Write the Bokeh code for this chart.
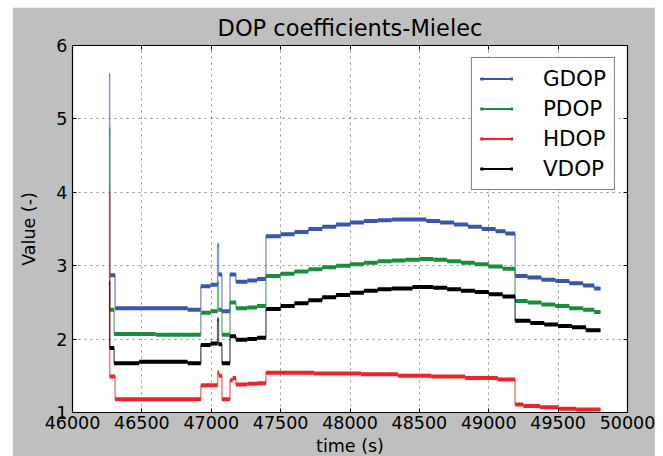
from bokeh.plotting import figure
from bokeh.models import LinearAxis, FixedTicker, Legend, LegendItem, Range1d, Spacer
from bokeh.layouts import row, column
from bokeh.embed import file_html
from bokeh.resources import INLINE

T_END = 49805

GDOP_T = [46264, 46268, 46307, 46830, 46925, 46995, 47046, 47052, 47077, 47135, 47178, 47260, 47330,
          47394, 47500, 47600, 47700, 47800, 47900, 48000, 48100, 48200, 48300, 48550, 48650, 48750,
          48850, 48950, 49050, 49120, 49190, 49280, 49380, 49480, 49580, 49680, 49760]
GDOP_V = [5.60, 2.87, 2.42, 2.40, 2.72, 2.74, 3.29, 2.88, 2.38, 2.88, 2.78, 2.80, 2.82,
          3.40, 3.43, 3.46, 3.50, 3.53, 3.56, 3.59, 3.61, 3.62, 3.63, 3.61, 3.59, 3.56,
          3.53, 3.50, 3.47, 3.44, 2.86, 2.84, 2.81, 2.79, 2.76, 2.73, 2.69]

PDOP_T = [46264, 46268, 46300, 46600, 46925, 46995, 47046, 47052, 47077, 47135, 47178, 47260, 47330,
          47394, 47500, 47600, 47700, 47800, 47900, 48000, 48100, 48200, 48300, 48400, 48500, 48600,
          48700, 48800, 48900, 49000, 49100, 49190, 49280, 49380, 49480, 49580, 49680, 49760]
PDOP_V = [4.87, 2.40, 2.07, 2.06, 2.36, 2.38, 2.77, 2.40, 2.06, 2.50, 2.42, 2.43, 2.45,
          2.86, 2.89, 2.92, 2.95, 2.98, 3.00, 3.02, 3.04, 3.06, 3.07, 3.08, 3.09, 3.08,
          3.06, 3.04, 3.02, 2.99, 2.96, 2.52, 2.50, 2.47, 2.45, 2.42, 2.40, 2.37]

HDOP_T = [46264, 46268, 46307, 46925, 47046, 47055, 47077, 47135, 47155, 47178, 47260, 47330,
          47394, 47740, 48080, 48345, 48585, 48830, 49065, 49190, 49250, 49370, 49500, 49630]
HDOP_V = [4.00, 1.49, 1.18, 1.37, 1.55, 1.50, 1.18, 1.44, 1.47, 1.38, 1.39, 1.40,
          1.54, 1.53, 1.52, 1.50, 1.49, 1.47, 1.45, 1.11, 1.09, 1.07, 1.05, 1.04]

VDOP_T = [46264, 46268, 46300, 46480, 46830, 46925, 46995, 47046, 47052, 47077, 47135, 47178, 47260,
          47330, 47394, 47500, 47600, 47700, 47800, 47900, 48000, 48100, 48200, 48300, 48450, 48600,
          48700, 48800, 48900, 49000, 49100, 49190, 49300, 49400, 49500, 49600, 49700]
VDOP_V = [2.77, 1.88, 1.67, 1.69, 1.67, 1.92, 1.94, 2.27, 1.93, 1.67, 2.04, 1.99, 2.00,
          2.02, 2.41, 2.45, 2.49, 2.53, 2.57, 2.60, 2.63, 2.66, 2.68, 2.69, 2.71, 2.70,
          2.68, 2.66, 2.64, 2.61, 2.58, 2.25, 2.22, 2.20, 2.18, 2.16, 2.12]

SERIES = [("GDOP", GDOP_T, GDOP_V, "#3b55a9"),
          ("PDOP", PDOP_T, PDOP_V, "#1d8b3f"),
          ("HDOP", HDOP_T, HDOP_V, "#ee2228"),
          ("VDOP", VDOP_T, VDOP_V, "#000000")]

X_TICKS = [46000, 46500, 47000, 47500, 48000, 48500, 49000, 49500, 50000]
Y_TICKS = [1, 2, 3, 4, 5, 6]

FONT = "DejaVu Sans"

p = figure(frame_width=555, frame_height=367, x_range=Range1d(46000, 50000), y_range=Range1d(1, 6),
           output_backend="svg", toolbar_location=None, title="DOP coefficients-Mielec",
           min_border_left=60, min_border_right=28, min_border_top=38, min_border_bottom=44)
p.border_fill_color = "#bfbfbf"
p.background_fill_color = "white"
p.outline_line_color = "black"
p.outline_line_width = 1.2

p.title.text_font = FONT
p.title.text_font_size = "22.5px"
p.title.text_font_style = "normal"
p.title.align = "center"
p.title.text_color = "black"
p.title.standoff = 9

for ax in (p.xaxis[0], p.yaxis[0]):
    ax.major_label_text_font = FONT
    ax.major_label_text_font_size = "17.5px"
    ax.major_label_text_color = "black"
    ax.axis_label_text_font = FONT
    ax.axis_label_text_font_size = "17.5px"
    ax.axis_label_text_font_style = "normal"
    ax.axis_label_text_color = "black"
    ax.major_tick_in = 4
    ax.major_tick_out = 0
    ax.minor_tick_in = 0
    ax.minor_tick_out = 0
    ax.major_tick_line_color = "black"
    ax.axis_line_color = "black"

p.xaxis.ticker = FixedTicker(ticks=X_TICKS)
p.yaxis.ticker = FixedTicker(ticks=Y_TICKS)
p.xaxis.axis_label = "time (s)"
p.yaxis.axis_label = "Value (-)"
p.xaxis.major_label_standoff = 3
p.xaxis.axis_label_standoff = 4
p.yaxis.major_label_standoff = 5
p.yaxis.axis_label_standoff = 14

top = LinearAxis(ticker=FixedTicker(ticks=X_TICKS), major_label_text_font_size="1px",
                 major_label_text_color=None, major_tick_in=4, major_tick_out=0,
                 minor_tick_in=0, minor_tick_out=0, major_label_standoff=0,
                 axis_line_color="black")
right = LinearAxis(ticker=FixedTicker(ticks=Y_TICKS), major_label_text_font_size="1px",
                   major_label_text_color=None, major_tick_in=4, major_tick_out=0,
                   minor_tick_in=0, minor_tick_out=0, major_label_standoff=0,
                   axis_line_color="black")
p.add_layout(top, "above")
p.add_layout(right, "right")

p.grid.grid_line_color = "black"
p.grid.grid_line_alpha = 0.45
p.grid.grid_line_dash = "2 4"
p.grid.grid_line_width = 1
p.xgrid.ticker = FixedTicker(ticks=X_TICKS)
p.ygrid.ticker = FixedTicker(ticks=Y_TICKS)

items = []
for name, t, v, c in SERIES:
    xs = list(t) + [T_END]
    ys = list(v) + [v[-1]]
    p.step(x=xs, y=ys, mode="after", line_color=c, line_width=1.5, line_alpha=0.6)
    p.segment(x0=list(t), y0=list(v), x1=xs[1:], y1=list(v), line_color=c, line_width=4)
    # zero-length proxies at the series end point, used only for the legend glyphs
    lr = p.line(x=[T_END, T_END], y=[v[-1], v[-1]], line_color=c, line_width=2)
    dr = p.line(x=[T_END, T_END], y=[v[-1], v[-1]], line_color=c, line_width=3,
                line_dash="3 27")
    items.append(LegendItem(label=name, renderers=[lr, dr]))

legend = Legend(items=items, location="top_right", border_line_color="black",
                border_line_width=1.5, label_text_font=FONT, label_text_font_size="21.5px",
                label_text_color="black", glyph_width=33, glyph_height=25, label_height=25,
                label_standoff=30, spacing=5, padding=8, margin=12, background_fill_alpha=1)
p.add_layout(legend)

layout = column(Spacer(width=10, height=7), row(Spacer(width=12, height=10), p))
open("out.html", "w").write(file_html(layout, INLINE))
